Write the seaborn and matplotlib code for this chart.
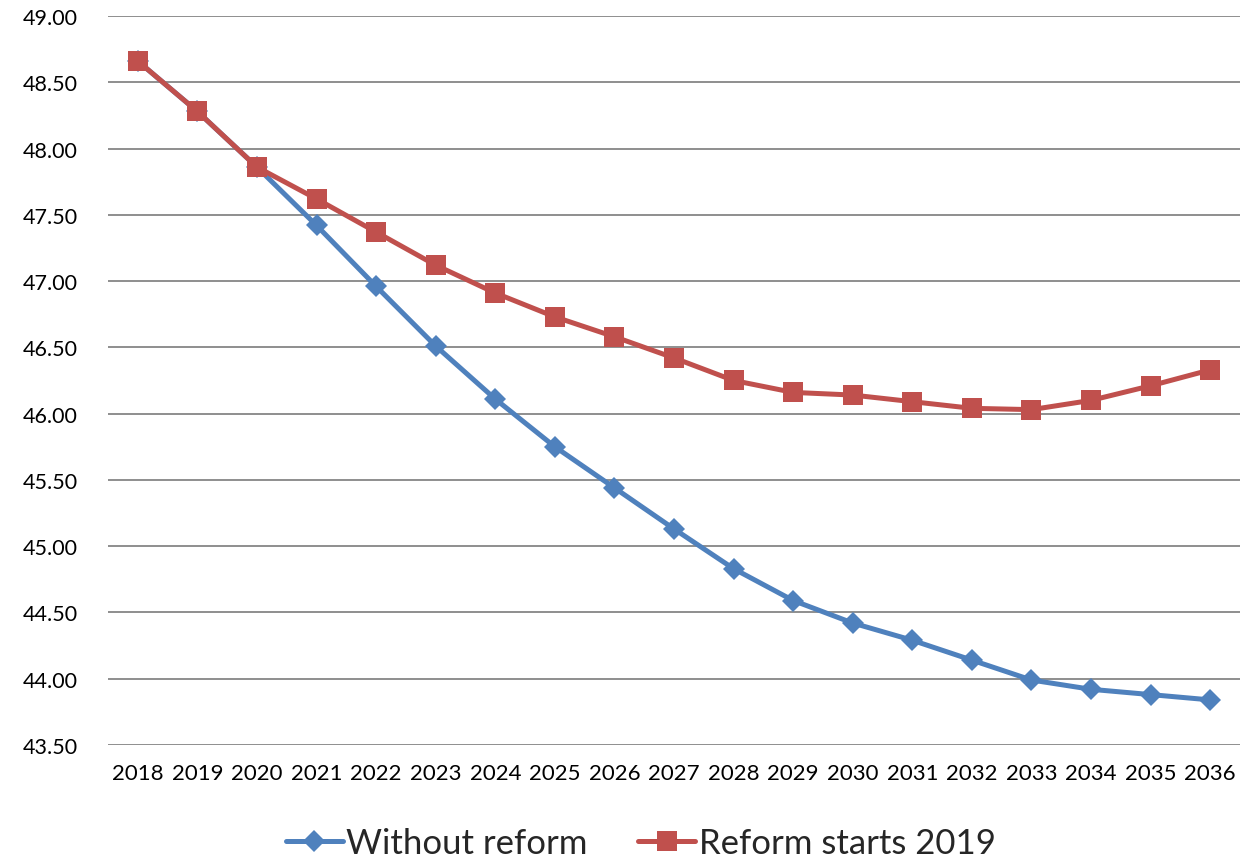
import matplotlib
matplotlib.use("Agg")
import matplotlib.pyplot as plt
from matplotlib.lines import Line2D
import seaborn as sns
import pandas as pd
import numpy as np

years = [str(y) for y in range(2018, 2037)]
without_reform = [48.66, 48.28, 47.86, 47.42, 46.96, 46.51, 46.11, 45.75, 45.44,
                  45.13, 44.83, 44.59, 44.42, 44.29, 44.14, 43.99, 43.92, 43.88, 43.84]
reform_2019 = [48.66, 48.28, 47.86, 47.62, 47.37, 47.12, 46.91, 46.73, 46.58,
               46.42, 46.25, 46.16, 46.14, 46.09, 46.04, 46.03, 46.10, 46.21, 46.33]
series_names = ["Without reform", "Reform starts 2019"]
colors = ["#4F81BD", "#C0504D"]

df = pd.DataFrame({
    "year": years * 2,
    "value": without_reform + reform_2019,
    "series": [series_names[0]] * len(years) + [series_names[1]] * len(years),
})
df["pos"] = np.tile(np.arange(len(years)), 2)

sns.set_theme(style="white")
plt.rcParams["font.family"] = ["Lato", "DejaVu Sans"]

fig = plt.figure(figsize=(12.44, 8.62), dpi=100)
ax = fig.add_axes([0.0868, 0.1346, 0.9100, 0.8457])

marker_sizes = {"D": 11, "s": 14.5}
for name, col, mk in zip(series_names, colors, ["D", "s"]):
    sub = df[df["series"] == name]
    sns.lineplot(data=sub, x="pos", y="value", color=col, marker=mk,
                 linewidth=3.6, markersize=marker_sizes[mk], markeredgewidth=0,
                 ax=ax, legend=False, zorder=3)

ax.set_xlim(-0.5, len(years) - 0.5)
ax.set_ylim(43.5, 49.0)
yt = np.arange(43.5, 49.01, 0.5)
ax.set_yticks(yt)
ax.set_yticklabels([f"{v:.2f}" for v in yt], fontsize=15.5)
ax.set_xticks(range(len(years)))
ax.set_xticklabels(years, fontsize=16)
ax.set_xlabel("")
ax.set_ylabel("")
ax.grid(axis="y", color="#868686", linewidth=1.3)
ax.grid(axis="x", visible=False)
for s in ax.spines.values():
    s.set_visible(False)
ax.tick_params(axis="both", length=0, colors="black")
ax.tick_params(axis="y", pad=22)
ax.tick_params(axis="x", pad=13)

handles = [Line2D([], [], color=colors[0], marker="D", linewidth=3.6, markersize=11, markeredgewidth=0),
           Line2D([], [], color=colors[1], marker="s", linewidth=3.6, markersize=14.5, markeredgewidth=0)]
fig.legend(handles, series_names, loc="center", bbox_to_anchor=(0.515, 0.021), ncol=2,
           frameon=False, fontsize=25, handlelength=1.65, handletextpad=0.1, columnspacing=1.45)

fig.savefig("out.png", dpi=100, facecolor="white")
